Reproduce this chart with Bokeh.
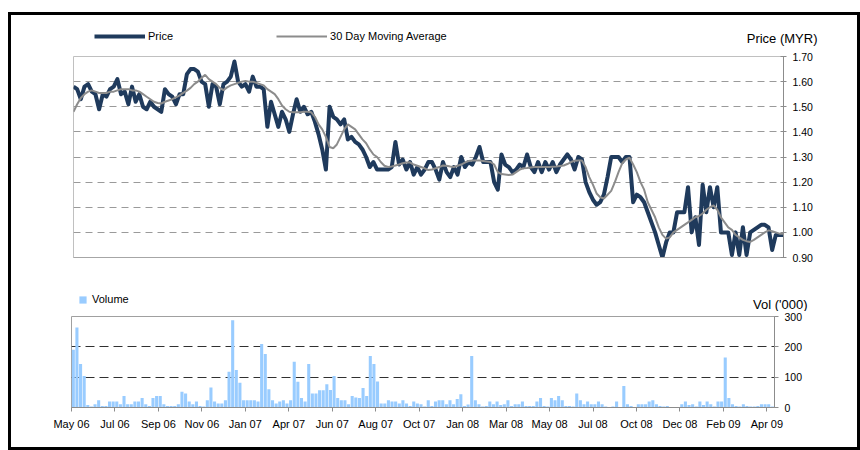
from bokeh.plotting import figure
from bokeh.models import (Range1d, FixedTicker, Legend, LegendItem, Label,
                          NumeralTickFormatter)
from bokeh.layouts import column
from bokeh.embed import file_html
from bokeh.resources import INLINE

FONT = "Liberation Sans"
NAN = float("nan")

# ---------------- data ----------------
tick_slots = [0, 12, 24, 36, 48, 60, 72, 84, 96, 108, 120, 132, 144, 156, 168, 180, 192]
tick_labels = ["May 06", "Jul 06", "Sep 06", "Nov 06", "Jan 07", "Apr 07", "Jun 07",
               "Aug 07", "Oct 07", "Jan 08", "Mar 08", "May 08", "Jul 08", "Oct 08",
               "Dec 08", "Feb 09", "Apr 09"]
slot_span = 194.1

price_ticks = [0.90, 1.00, 1.10, 1.20, 1.30, 1.40, 1.50, 1.60, 1.70]
vol_ticks = [0, 100, 200, 300]

price = [
    1.58, 1.57, 1.53, 1.58, 1.59, 1.56, 1.55, 1.49, 1.55, 1.54,
    1.57, 1.58, 1.61, 1.55, 1.56, 1.51, 1.58, 1.52, 1.55, 1.50,
    1.49, 1.52, 1.50, 1.49, 1.48, 1.57, 1.55, 1.54, 1.51, 1.55,
    1.55, 1.63, 1.65, 1.65, 1.64, 1.60, 1.59, 1.50, 1.59, 1.58,
    1.51, 1.59, 1.60, 1.62, 1.68, 1.60, 1.58, 1.59, 1.56,
    1.62, 1.58, 1.58, 1.57, 1.42, 1.52, 1.47, 1.42, 1.48, 1.45,
    1.40, 1.47, 1.53, 1.48, 1.50, 1.47, 1.48, 1.44, 1.39, 1.33,
    1.25, 1.50, 1.46, 1.45, 1.43, 1.45, 1.37, 1.38, 1.36, 1.35,
    1.33, 1.30, 1.26, 1.28, 1.25, 1.25, 1.25, 1.25, 1.26, 1.36,
    1.27, 1.29, 1.25, 1.28, 1.23, 1.26, 1.23, 1.25, 1.28,
    1.28, 1.25, 1.21, 1.28, 1.24, 1.22, 1.26, 1.23, 1.30, 1.26,
    1.28, 1.27, 1.30, 1.34, 1.28, 1.28, 1.28, 1.20, 1.17, 1.31,
    1.27, 1.26, 1.24, 1.25, 1.27, 1.26, 1.31, 1.26, 1.24, 1.28,
    1.24, 1.28, 1.25, 1.28, 1.24, 1.27, 1.29, 1.31, 1.29, 1.25,
    1.30, 1.29, 1.20, 1.16, 1.13, 1.11, 1.12, 1.15, 1.22,
    1.30, 1.30, 1.30, 1.28, 1.30, 1.30, 1.12, 1.15, 1.14, 1.12,
    1.08, 1.04, 1.00, 0.95, 0.90, 0.96, 1.00, 1.00, 1.08, 1.08,
    1.08, 1.18, 1.00, 1.06, 0.95, 1.19, 1.08, 1.18, 1.10, 1.18,
    1.00, 1.00, 1.00, 0.91, 1.00, 0.91, 1.02, 0.91, 1.00, 1.01,
    1.02, 1.03, 1.03, 1.02, 0.93, 0.99, 0.99, 0.99,
]

ma30 = [
    1.48, 1.51, 1.535, 1.55, 1.56, 1.565, 1.56, 1.555, 1.555, 1.555,
    1.56, 1.56, 1.565, 1.57, 1.57, 1.57, 1.565, 1.565, 1.56, 1.55,
    1.54, 1.53, 1.52, 1.515, 1.513, 1.52, 1.525, 1.53, 1.537, 1.545,
    1.555, 1.564, 1.575, 1.59, 1.60, 1.615, 1.627, 1.61, 1.60, 1.59,
    1.575, 1.566, 1.577, 1.585, 1.59, 1.595, 1.60, 1.603, 1.60,
    1.60, 1.595, 1.59, 1.585, 1.57, 1.56, 1.55, 1.53, 1.505, 1.49,
    1.48, 1.478, 1.478, 1.478, 1.48, 1.48, 1.478, 1.46, 1.43, 1.41,
    1.38, 1.34, 1.335, 1.35, 1.38, 1.41, 1.43, 1.42, 1.41, 1.39,
    1.37, 1.355, 1.33, 1.31, 1.30, 1.28, 1.265, 1.26, 1.262, 1.266,
    1.27, 1.275, 1.278, 1.279, 1.27, 1.265, 1.26, 1.255, 1.248,
    1.25, 1.255, 1.26, 1.266, 1.265, 1.262, 1.26, 1.265, 1.27, 1.278,
    1.284, 1.286, 1.286, 1.286, 1.284, 1.282, 1.28, 1.27, 1.24, 1.232,
    1.23, 1.228, 1.23, 1.24, 1.25, 1.255, 1.256, 1.258, 1.26, 1.26,
    1.26, 1.26, 1.26, 1.261, 1.262, 1.264, 1.266, 1.272, 1.28, 1.285,
    1.286, 1.286, 1.26, 1.22, 1.19, 1.155, 1.14, 1.135, 1.15,
    1.165, 1.20, 1.24, 1.275, 1.29, 1.297, 1.27, 1.24, 1.20, 1.17,
    1.12, 1.09, 1.06, 1.02, 0.99, 0.975, 0.98, 1.00, 1.01, 1.02,
    1.03, 1.04, 1.05, 1.06, 1.065, 1.075, 1.09, 1.10, 1.107, 1.09,
    1.06, 1.04, 1.02, 1.01, 0.99, 0.98, 0.97, 0.965, 0.962, 0.97,
    0.98, 0.99, 1.00, 1.008, 1.005, 1.00, 0.995, 0.995,
]

volume = [
    190, 264, 143, 104, 8, 3, 11, 24, 5, 5,
    20, 20, 20, 11, 38, 11, 11, 20, 20, 31,
    11, 5, 31, 38, 38, 11, 5, 5, 5, 11,
    52, 46, 20, 11, 20, 5, 3, 24, 66, 20,
    13, 13, 24, 118, 288, 124, 82, 24, 24, 24,
    24, 20, 209, 176, 60, 24, 13, 20, 24, 13,
    24, 151, 85, 31, 20, 143, 46, 46, 57, 57,
    77, 58, 104, 31, 24, 24, 11, 38, 33, 31,
    64, 38, 170, 143, 86, 13, 13, 24, 20, 20,
    13, 24, 13, 5, 20, 13, 11,
    3, 24, 5, 20, 24, 24, 11, 24, 11, 28,
    44, 5, 10, 170, 24, 11, 3, 5, 20, 11,
    20, 8, 11, 24, 5, 11, 11, 20, 5, 5,
    5, 20, 31, 5, 3, 31, 24, 38, 24, 5,
    5, 3, 46, 24, 11, 20, 11, 11, 20, 11,
    3, 2, 3, 20, 2, 71, 11, 5, 2, 11,
    11, 11, 20, 24, 11, 5, 3, 5, 2, 2,
    2, 11, 20, 8, 11, 3, 20, 8, 20, 11,
    3, 20, 20, 165, 31, 11, 5, 3, 11, 5,
    3, 3, 5, 11, 11, 11, 3,
]

price_x = list(range(len(price)))
vol_x = [i + 0.5 for i in range(len(volume))]

NAVY = "#1F3A5C"
MA_GREY = "#8C8C8C"
BAR_BLUE = "#99CCFF"
W = 846

HAS_FRAME_ALIGN = "frame_align" in figure.properties()


def unalign(p):
    if HAS_FRAME_ALIGN:
        p.frame_align = False


def header(height):
    """A frame-only strip whose data units are pixels, holding legend + unit text."""
    h = figure(width=W, height=height, x_range=Range1d(0, W), y_range=Range1d(0, height),
               x_axis_location=None, y_axis_location=None, output_backend="svg",
               toolbar_location=None, min_border=0)
    h.outline_line_color = None
    h.grid.visible = False
    h.background_fill_color = "white"
    h.border_fill_color = "white"
    unalign(h)
    return h


# ---------------- header of price panel ----------------
h1 = header(33)
lp = h1.line(x=[NAN], y=[NAN], line_color=NAVY, line_width=4)
lm = h1.line(x=[NAN], y=[NAN], line_color=MA_GREY, line_width=2)
h1.add_layout(Legend(items=[LegendItem(label="Price", renderers=[lp]),
                            LegendItem(label="30 Day Moving Average", renderers=[lm])],
                     orientation="horizontal", location=(83, 6), padding=0, margin=0,
                     spacing=103, glyph_width=51, glyph_height=12, label_height=12,
                     label_standoff=3, label_text_font=FONT, label_text_font_size="11px",
                     label_text_color="black", border_line_color=None,
                     background_fill_alpha=0))
h1.add_layout(Label(x=806, y=10, text="Price (MYR)", text_align="right",
                    text_baseline="middle", text_font=FONT, text_font_size="13px",
                    text_color="black"))

# ---------------- price panel ----------------
p1 = figure(width=W, height=232, x_range=Range1d(0, slot_span),
            y_range=Range1d(price_ticks[0], price_ticks[-1]),
            y_axis_location="right", output_backend="svg", toolbar_location=None,
            min_border_left=62, min_border_right=74, min_border_top=8,
            min_border_bottom=23)
unalign(p1)
p1.background_fill_color = "white"
p1.border_fill_color = "white"
p1.outline_line_color = "#C0C0C0"
p1.xgrid.visible = False
p1.ygrid.ticker = FixedTicker(ticks=price_ticks[1:-1])
p1.ygrid.grid_line_color = "#9A9A9A"
p1.ygrid.grid_line_dash = "7 5"
p1.ygrid.grid_line_width = 1

p1.xaxis.ticker = FixedTicker(ticks=[])
p1.xaxis.axis_line_color = "#A6A6A6"
p1.xaxis.major_tick_line_color = None
p1.xaxis.minor_tick_line_color = None

ya = p1.yaxis[0]
ya.ticker = FixedTicker(ticks=price_ticks)
ya.formatter = NumeralTickFormatter(format="0.00")
ya.axis_line_color = "#8C8C8C"
ya.major_tick_line_color = "#8C8C8C"
ya.major_tick_in = 3
ya.major_tick_out = 3
ya.minor_tick_line_color = None
ya.major_label_standoff = 6
ya.major_label_text_font = FONT
ya.major_label_text_font_size = "10.5px"
ya.major_label_text_color = "black"

p1.line(price_x, price, line_color=NAVY, line_width=4, line_join="round")
p1.line(price_x, ma30, line_color=MA_GREY, line_width=2)

# ---------------- header of volume panel ----------------
h2 = header(31)
lv = h2.vbar(x=[NAN], top=[NAN], width=1, fill_color=BAR_BLUE, line_color=None)
h2.add_layout(Legend(items=[LegendItem(label="Volume", renderers=[lv])],
                     orientation="horizontal", location=(67, 6), padding=0, margin=0,
                     glyph_width=9, glyph_height=9, label_height=12, label_standoff=5,
                     label_text_font=FONT, label_text_font_size="11px",
                     label_text_color="black", border_line_color=None,
                     background_fill_alpha=0))
h2.add_layout(Label(x=796, y=7.5, text="Vol ('000)", text_align="right",
                    text_baseline="middle", text_font=FONT, text_font_size="13px",
                    text_color="black"))

# ---------------- volume panel ----------------
p2 = figure(width=W, height=136, x_range=Range1d(0, slot_span),
            y_range=Range1d(vol_ticks[0], vol_ticks[-1]),
            y_axis_location="right", output_backend="svg", toolbar_location=None,
            min_border_left=60, min_border_right=83, min_border_top=5,
            min_border_bottom=40)
unalign(p2)
p2.background_fill_color = "white"
p2.border_fill_color = "white"
p2.outline_line_color = "#A0A0A0"
p2.xgrid.visible = False
p2.ygrid.ticker = FixedTicker(ticks=vol_ticks[1:-1])
p2.ygrid.grid_line_color = "#303030"
p2.ygrid.grid_line_dash = "9 5"

p2.vbar(x=vol_x, top=volume, width=0.85, fill_color=BAR_BLUE, line_color=None)

xa = p2.xaxis[0]
xa.ticker = FixedTicker(ticks=tick_slots)
xa.major_label_overrides = {t: lab for t, lab in zip(tick_slots, tick_labels)}
xa.axis_line_color = "#8C8C8C"
xa.major_tick_line_color = "#8C8C8C"
xa.major_tick_in = 0
xa.major_tick_out = 4
xa.minor_tick_line_color = None
xa.major_label_standoff = 6
xa.major_label_text_font = FONT
xa.major_label_text_font_size = "11px"
xa.major_label_text_color = "black"

yb = p2.yaxis[0]
yb.ticker = FixedTicker(ticks=vol_ticks)
yb.axis_line_color = "#8C8C8C"
yb.major_tick_line_color = "#8C8C8C"
yb.major_tick_in = 0
yb.major_tick_out = 4
yb.minor_tick_line_color = None
yb.major_label_standoff = 6
yb.major_label_text_font = FONT
yb.major_label_text_font_size = "10.5px"
yb.major_label_text_color = "black"

layout = column(h1, p1, h2, p2, spacing=0,
                styles={"border": "3px solid black", "margin-top": "12px",
                        "margin-left": "8px", "background-color": "white"})

open("out.html", "w").write(file_html(layout, INLINE))
